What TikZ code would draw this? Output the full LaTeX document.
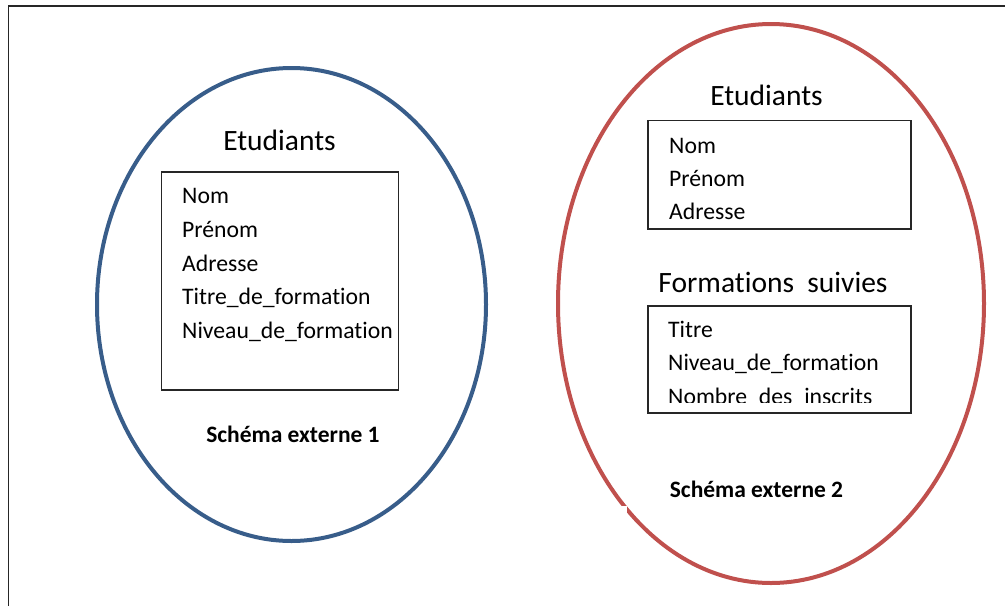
\documentclass[tikz,border=0pt]{standalone}
\usepackage{fontspec}
\setmainfont[RawFeature={-liga;-clig;-calt;-dlig}]{Carlito}
\definecolor{schemablue}{HTML}{385D8A}
\definecolor{schemared}{HTML}{C0504D}
\begin{document}
\begin{tikzpicture}[x=1pt,y=-1pt,
  pageframe/.style={draw=black!85, line width=1.4pt},
  bluering/.style={draw=schemablue, line width=4pt},
  redring/.style={draw=schemared, line width=4pt},
  entitybox/.style={draw=black!85, line width=1.2pt, inner sep=0pt},
  heading/.style={anchor=base, inner sep=0pt, font=\fontsize{29.5}{29.5}\selectfont},
  attr/.style={anchor=base west, inner sep=0pt, font=\fontsize{23.7}{23.7}\selectfont},
  caption/.style={anchor=base, inner sep=0pt, font=\bfseries\fontsize{23.5}{23.5}\selectfont}]
\useasboundingbox (0,0) rectangle (1005,606);

% page frame (top and left edges)
\draw[pageframe] (8.5,606) -- (8.5,6) -- (1005,6);

% external schema 1
\draw[bluering] (291.5,304.5) ellipse [x radius=194.5, y radius=236.5];
\node[heading] (h1) at (279.5,150) {Etudiants};
\node[entitybox, minimum width=236.5pt, minimum height=218pt] (box1) at (280,281) {};
\node[attr] (a1) at (182,203) {Nom};
\node[attr] (a2) at (182,237.5) {Prénom};
\node[attr] (a3) at (182,271) {Adresse};
\node[attr] (a4) at (182,304.5) {Titre\_de\_formation};
\node[attr] (a5) at (182,338) {Niveau\_de\_formation};
\node[caption] (c1) at (293,442) {Schéma externe 1};

% external schema 2
\draw[redring] (771,303.5) ellipse [x radius=213, y radius=279.5];
\fill[white] (614,506) rectangle (627,516);
\node[heading] (h2) at (766.5,105) {Etudiants};
\node[entitybox, minimum width=263pt, minimum height=108.5pt] (box2) at (779.5,174.75) {};
\begin{scope}
  \clip (648,120) rectangle (911,220.5);
  \node[attr] (b1) at (669,153) {Nom};
  \node[attr] (b2) at (669,186) {Prénom};
  \node[attr] (b3) at (669,219.5) {Adresse};
\end{scope}
\node[heading] (h3) at (773,292) {Formations\ \ suivies};
\node[entitybox, minimum width=263pt, minimum height=107pt] (box3) at (779.5,359.5) {};
\begin{scope}
  \clip (648,306) rectangle (911,402.5);
  \node[attr] (d1) at (668,337) {Titre};
  \node[attr] (d2) at (668,370) {Niveau\_de\_formation};
  \node[attr] (d3) at (668,404) {Nombre\_des\_inscrits};
\end{scope}
\node[caption] (c2) at (756.5,497) {Schéma externe 2};
\end{tikzpicture}
\end{document}
